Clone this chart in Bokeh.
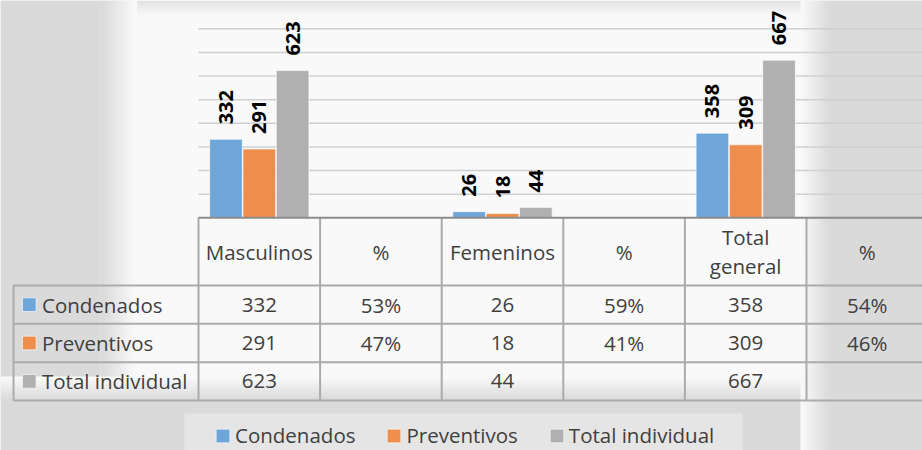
import numpy as np
from bokeh.plotting import figure
from bokeh.models import Range1d, ColumnDataSource, Legend, LegendItem
from bokeh.transform import dodge
from bokeh.core.properties import value
from bokeh.embed import file_html
from bokeh.resources import INLINE

# ---------------- data ----------------
categories = ["Masculinos", "%", "Femeninos", "%", "Total general", "%"]
is_percent = [False, True, False, True, False, True]
series_names = ["Condenados", "Preventivos", "Total individual"]
condenados = [332, 0.53, 26, 0.59, 358, 0.54]
preventivos = [291, 0.47, 18, 0.41, 309, 0.46]
total_individual = [623, None, 44, None, 667, None]
gridline_values = [100, 200, 300, 400, 500, 600, 700, 800]

# ---------------- style / layout ----------------
colors = ["#6fa6da", "#ee8d4c", "#b0b0b0"]
FONT = "Open Sans"
TXT = "#404040"
W, H = 922, 450
X0 = 198.0          # px of first category column's left edge
COL_W = 121.6       # px per category column
BASE = 217.3        # px (from top) of value 0
PPU = 189.0 / 800   # px per value unit
LABEL_GAP = 15.0    # px between bar top and its label
BAR_W = 0.268
OFFS = [-0.274, 0.0, 0.274]
TABLE_LEFT = 13.0
HEADER_BOTTOM = 285.0
ROW_H = 38.33
LINE_C = "#ababab"
FS = "20.5px"

ncat = len(categories)
p = figure(width=W, height=H,
           x_range=Range1d(-X0 / COL_W, (W - X0) / COL_W),
           y_range=Range1d(-(H - BASE) / PPU, BASE / PPU),
           x_axis_type=None, y_axis_type=None,
           toolbar_location=None, output_backend="svg",
           min_border=0, min_border_left=0, min_border_right=0,
           min_border_top=0, min_border_bottom=0,
           background_fill_color="#f9f9f9", border_fill_color="#f9f9f9",
           outline_line_color=None)
p.title.visible = False
p.extra_x_ranges = {"px": Range1d(0, W)}
p.extra_y_ranges = {"px": Range1d(H, 0)}


# ---------------- background vignette ----------------
def hexc(c):
    c = c.lstrip("#")
    return [int(c[i:i + 2], 16) for i in (0, 2, 4)]


def mix(c0, c1, t):
    a, b = hexc(c0), hexc(c1)
    return "#%02x%02x%02x" % tuple(int(round(a[i] + (b[i] - a[i]) * t)) for i in range(3))


bg = dict(left=[], right=[], top=[], bottom=[], color=[])


def block(l, r, t, b, c):
    bg["left"].append(l); bg["right"].append(r)
    bg["top"].append(t); bg["bottom"].append(b); bg["color"].append(c)


def grad(l, r, t, b, c0, c1, n, horizontal):
    for k in range(n):
        tt = k / (n - 1)
        if horizontal:
            x0 = l + (r - l) * k / n
            x1 = l + (r - l) * (k + 1) / n + 0.6
            block(x0, x1, t, b, mix(c0, c1, tt))
        else:
            y0 = t + (b - t) * k / n
            y1 = t + (b - t) * (k + 1) / n + 0.6
            block(l, r, y0, y1, mix(c0, c1, tt))


PAPER = "#f9f9f9"
GREY = "#dadada"
# top shadow
grad(0, W, 0, 16, "#e2e2e2", PAPER, 12, False)
# left band
block(0, 100, 0, 400, GREY)
grad(100, 136, 0, 400, GREY, PAPER, 18, True)
# bottom shading of table
grad(0, W, 376, 400, PAPER, GREY, 12, False)
block(0, W, 400, H, GREY)
# right band
grad(800, 830, 0, H, PAPER, GREY, 15, True)
block(830, W, 0, H, GREY)
# legend box
block(184, 742, 413, H, "#e5e5e5")
p.quad(left="left", right="right", top="top", bottom="bottom", color="color",
       source=ColumnDataSource(bg), line_color=None,
       x_range_name="px", y_range_name="px")

# ---------------- gridlines ----------------
p.segment(x0=0, x1=ncat, y0=gridline_values, y1=gridline_values,
          line_color="#d0d0d0", line_width=1.5)

# ---------------- bars + labels ----------------
bar_idx = [i for i in range(ncat) if not is_percent[i]]
series = [condenados, preventivos, total_individual]
renderers = []
for k, vals in enumerate(series):
    v = [vals[i] for i in bar_idx]
    src = ColumnDataSource(dict(
        x=[i + 0.5 for i in bar_idx],
        top=v,
        label=[str(int(a)) for a in v],
        ly=[a + LABEL_GAP / PPU for a in v],
    ))
    r = p.vbar(x=dodge("x", OFFS[k]), top="top", width=BAR_W, bottom=0,
               source=src, fill_color=colors[k], line_color="#ffffff",
               line_alpha=0.6, line_width=1)
    renderers.append(r)
    p.text(x=dodge("x", OFFS[k]), y="ly", text="label", source=src,
           angle=np.pi / 2, text_align="left", text_baseline="middle",
           text_font=value(FONT), text_font_style="bold",
           text_font_size="20px", text_color="#000000")

# ---------------- data table ----------------
col_edges = [X0 + i * COL_W for i in range(ncat + 1)]
row_lines = [HEADER_BOTTOM + j * ROW_H for j in range(len(series) + 1)]
table_bottom = row_lines[-1]
# horizontal lines
p.segment(x0=TABLE_LEFT, x1=W, y0=row_lines, y1=row_lines,
          line_color=LINE_C, line_width=2, x_range_name="px", y_range_name="px")
# vertical lines
p.segment(x0=col_edges, x1=col_edges, y0=BASE, y1=table_bottom,
          line_color=LINE_C, line_width=2, x_range_name="px", y_range_name="px")
p.segment(x0=[TABLE_LEFT], x1=[TABLE_LEFT], y0=[HEADER_BOTTOM], y1=[table_bottom],
          line_color=LINE_C, line_width=2, x_range_name="px", y_range_name="px")
# category axis line
p.segment(x0=[X0], x1=[W], y0=[BASE], y1=[BASE],
          line_color="#8c8c8c", line_width=2, x_range_name="px", y_range_name="px")

# header labels
p.text(x=[i + 0.5 for i in range(ncat)], y=[(BASE + HEADER_BOTTOM) / 2] * ncat,
       text=[c.replace(" ", "\n") for c in categories],
       text_align="center", text_baseline="middle", text_line_height=1.05,
       text_font=value(FONT), text_font_size=FS, text_color=TXT,
       y_range_name="px")

# cells
cx, cy, ct = [], [], []
for j, vals in enumerate(series):
    yc = HEADER_BOTTOM + j * ROW_H + ROW_H / 2
    for i, v in enumerate(vals):
        if v is None:
            s = ""
        elif is_percent[i]:
            s = f"{round(v * 100)}%"
        else:
            s = str(int(v))
        cx.append(i + 0.5); cy.append(yc); ct.append(s)
p.text(x=cx, y=cy, text=ct, text_align="center", text_baseline="middle",
       text_font=value(FONT), text_font_size=FS, text_color=TXT,
       y_range_name="px")

# row headers with colour keys
row_y = [HEADER_BOTTOM + j * ROW_H + ROW_H / 2 for j in range(len(series))]
p.rect(x=[28.8] * len(series), y=row_y, width=13.6, height=13.6,
       fill_color=colors, line_color="#ffffff", line_alpha=0.6,
       x_range_name="px", y_range_name="px")
p.text(x=[41.5] * len(series), y=row_y, text=series_names,
       text_align="left", text_baseline="middle",
       text_font=value(FONT), text_font_size=FS, text_color=TXT,
       x_range_name="px", y_range_name="px")

# ---------------- legend ----------------
legend = Legend(items=[LegendItem(label=n, renderers=[r]) for n, r in zip(series_names, renderers)],
                orientation="horizontal", location=(214, 1),
                glyph_width=17, glyph_height=17, label_standoff=4, spacing=30,
                padding=0, margin=0,
                label_text_font=FONT, label_text_font_size=FS,
                label_text_color=TXT,
                background_fill_alpha=0, border_line_color=None)
p.add_layout(legend)

open("out.html", "w").write(file_html(p, INLINE))
